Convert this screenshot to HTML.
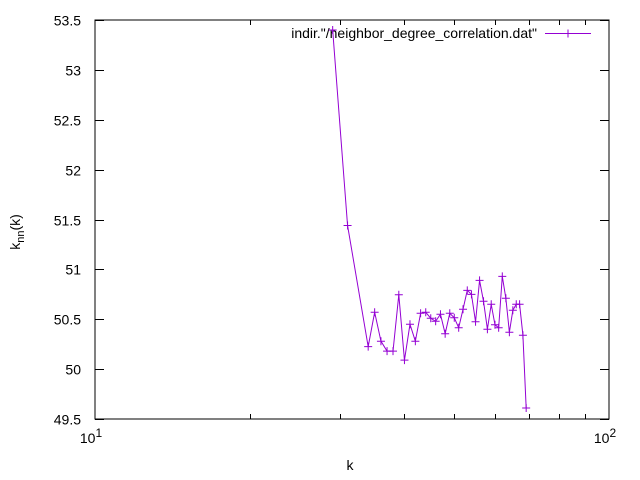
<!DOCTYPE html>
<html><head><meta charset="utf-8"><style>
body{margin:0;background:#fff}
svg{display:block;font-family:"Liberation Sans",sans-serif}
</style></head><body>
<svg id="chart" width="640" height="480" viewBox="0 0 640 480" xmlns="http://www.w3.org/2000/svg">
<rect x="0" y="0" width="640" height="480" fill="#fff"/>
<g id="axes"></g>
<g id="series"></g>
</svg>
<script>
const kValues=[29,31,34,35,36,37,38,39,40,41,42,43,44,45,46,47,48,49,50,51,52,53,54,55,56,57,58,59,60,61,62,63,64,65,66,67,68,69];
const knnValues=[53.4,51.44,50.225,50.57,50.28,50.18,50.18,50.746,50.09,50.45,50.28,50.56,50.57,50.51,50.48,50.55,50.355,50.56,50.515,50.415,50.60,50.79,50.75,50.475,50.89,50.68,50.40,50.65,50.445,50.415,50.93,50.71,50.37,50.59,50.65,50.65,50.34,49.61];
const yTicks=[49.5,50,50.5,51,51.5,52,52.5,53,53.5];
const yTickLabels=["49.5","50","50.5","51","51.5","52","52.5","53","53.5"];
const xMinor=[20,30,40,50,60,70,80,90];

const L=95,R=609,T=20,B=419;
const ymin=49.5,ymax=53.5;
const xs=k=>L+(Math.log10(k)-1)*(R-L);
const ys=v=>B-(v-ymin)/(ymax-ymin)*(B-T);
const NS="http://www.w3.org/2000/svg";
function mk(tag,attrs,parent){const e=document.createElementNS(NS,tag);for(const a in attrs)e.setAttribute(a,attrs[a]);parent.appendChild(e);return e;}
const ax=document.getElementById('axes');
const frame=mk('rect',{x:L,y:T,width:R-L,height:B-T,fill:'none',stroke:'#000','stroke-width':1},ax);


yTicks.forEach((v,i)=>{
  const y=Math.round(ys(v))+0.5;
  const t=mk('path',{d:`M${L},${y}h9M${R},${y}h-9`,stroke:'#000'},ax);
  
  
  const tx=mk('text',{x:L-14,y:y+5,'text-anchor':'end','font-size':'14',fill:'#000'},ax);
  tx.textContent=yTickLabels[i];
  
  
});
xMinor.forEach(k=>{
  const x=Math.round(xs(k))+0.5;
  const t=mk('path',{d:`M${x},${B}v-5M${x},${T}v5`,stroke:'#000'},ax);
  
  
});
[[10,'1'],[100,'2']].forEach(([k,e])=>{
  const x=xs(k);
  const t=mk('path',{d:`M${x},${B}v-9M${x},${T}v9`,stroke:'#000'},ax);
  
  
  const tx=mk('text',{x:x-4,y:B+24,'text-anchor':'middle','font-size':'14',fill:'#000'},ax);
  tx.innerHTML='10<tspan dy="-6" font-size="12">'+e+'</tspan>';
  
  
});
const xl=mk('text',{x:350,y:470,'text-anchor':'middle','font-size':'14',fill:'#000'},ax);
xl.textContent='k';


const yl=mk('text',{x:0,y:0,'text-anchor':'middle','font-size':'14',fill:'#000',transform:'translate(20,232) rotate(-90)'},ax);
yl.innerHTML='k<tspan dy="4" font-size="11">nn</tspan><tspan dy="-4">(k)</tspan>';


const lg=mk('text',{x:537,y:38,'text-anchor':'end','font-size':'14',fill:'#000'},ax);
lg.textContent='indir."/neighbor_degree_correlation.dat"';


const lgl=mk('path',{d:'M545,33.5h46M568,29.5v8',stroke:'#9400d3','stroke-width':1},ax);



const se=document.getElementById('series');
const pts=kValues.map((k,i)=>[xs(k),ys(knnValues[i])]);
const line=mk('polyline',{points:pts.map(p=>p.join(',')).join(' '),fill:'none',stroke:'#9400d3','stroke-width':1},se);


pts.forEach(([x,y])=>{
  const m=mk('path',{d:`M${x-4},${y}h8M${x},${y-4}v8`,stroke:'#9400d3','stroke-width':1},se);
  
  
});
</script>
</body></html>
